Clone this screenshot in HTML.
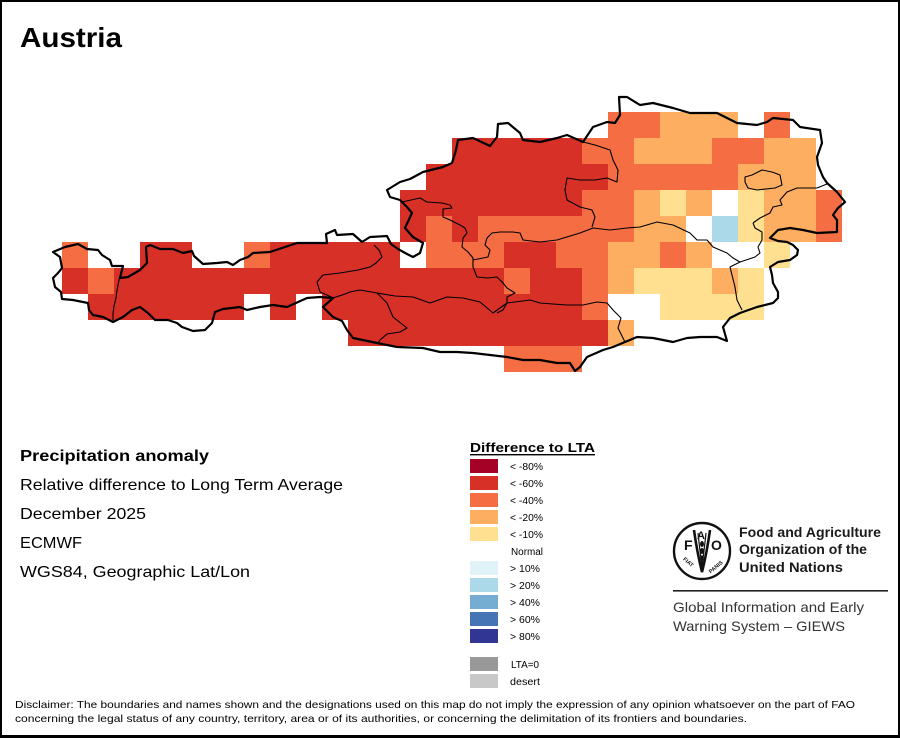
<!DOCTYPE html>
<html><head><meta charset="utf-8"><style>
html,body{margin:0;padding:0;background:#fff;}
svg{display:block;}
text{font-family:"Liberation Sans",Arial,sans-serif;}
</style></head><body>
<svg xmlns="http://www.w3.org/2000/svg" width="900" height="738" viewBox="0 0 900 738">
<rect x="0" y="0" width="900" height="738" fill="#fff"/>
<g shape-rendering="crispEdges">
<rect x="608" y="112" width="52" height="26" fill="#f46d43"/>
<rect x="660" y="112" width="78" height="26" fill="#fdae61"/>
<rect x="764" y="112" width="26" height="26" fill="#f46d43"/>
<rect x="452" y="138" width="130" height="26" fill="#d73027"/>
<rect x="582" y="138" width="52" height="26" fill="#f46d43"/>
<rect x="634" y="138" width="78" height="26" fill="#fdae61"/>
<rect x="712" y="138" width="52" height="26" fill="#f46d43"/>
<rect x="764" y="138" width="52" height="26" fill="#fdae61"/>
<rect x="426" y="164" width="182" height="26" fill="#d73027"/>
<rect x="608" y="164" width="130" height="26" fill="#f46d43"/>
<rect x="738" y="164" width="78" height="26" fill="#fdae61"/>
<rect x="400" y="190" width="182" height="26" fill="#d73027"/>
<rect x="582" y="190" width="52" height="26" fill="#f46d43"/>
<rect x="634" y="190" width="26" height="26" fill="#fdae61"/>
<rect x="660" y="190" width="26" height="26" fill="#fee090"/>
<rect x="686" y="190" width="26" height="26" fill="#fdae61"/>
<rect x="738" y="190" width="26" height="26" fill="#fee090"/>
<rect x="764" y="190" width="52" height="26" fill="#fdae61"/>
<rect x="816" y="190" width="26" height="26" fill="#f46d43"/>
<rect x="400" y="216" width="26" height="26" fill="#d73027"/>
<rect x="426" y="216" width="26" height="26" fill="#f46d43"/>
<rect x="452" y="216" width="26" height="26" fill="#d73027"/>
<rect x="478" y="216" width="156" height="26" fill="#f46d43"/>
<rect x="634" y="216" width="52" height="26" fill="#fdae61"/>
<rect x="712" y="216" width="26" height="26" fill="#abd9e9"/>
<rect x="738" y="216" width="26" height="26" fill="#fee090"/>
<rect x="764" y="216" width="52" height="26" fill="#fdae61"/>
<rect x="816" y="216" width="26" height="26" fill="#f46d43"/>
<rect x="62" y="242" width="26" height="26" fill="#f46d43"/>
<rect x="140" y="242" width="52" height="26" fill="#d73027"/>
<rect x="244" y="242" width="26" height="26" fill="#f46d43"/>
<rect x="270" y="242" width="130" height="26" fill="#d73027"/>
<rect x="426" y="242" width="78" height="26" fill="#f46d43"/>
<rect x="504" y="242" width="52" height="26" fill="#d73027"/>
<rect x="556" y="242" width="52" height="26" fill="#f46d43"/>
<rect x="608" y="242" width="52" height="26" fill="#fdae61"/>
<rect x="660" y="242" width="26" height="26" fill="#f46d43"/>
<rect x="686" y="242" width="26" height="26" fill="#fdae61"/>
<rect x="764" y="242" width="26" height="26" fill="#fee090"/>
<rect x="62" y="268" width="26" height="26" fill="#d73027"/>
<rect x="88" y="268" width="26" height="26" fill="#f46d43"/>
<rect x="114" y="268" width="390" height="26" fill="#d73027"/>
<rect x="504" y="268" width="26" height="26" fill="#f46d43"/>
<rect x="530" y="268" width="52" height="26" fill="#d73027"/>
<rect x="582" y="268" width="26" height="26" fill="#f46d43"/>
<rect x="608" y="268" width="26" height="26" fill="#fdae61"/>
<rect x="634" y="268" width="78" height="26" fill="#fee090"/>
<rect x="712" y="268" width="26" height="26" fill="#fdae61"/>
<rect x="738" y="268" width="26" height="26" fill="#fee090"/>
<rect x="88" y="294" width="156" height="26" fill="#d73027"/>
<rect x="270" y="294" width="26" height="26" fill="#d73027"/>
<rect x="322" y="294" width="260" height="26" fill="#d73027"/>
<rect x="582" y="294" width="26" height="26" fill="#f46d43"/>
<rect x="660" y="294" width="104" height="26" fill="#fee090"/>
<rect x="348" y="320" width="260" height="26" fill="#d73027"/>
<rect x="608" y="320" width="26" height="26" fill="#fdae61"/>
<rect x="504" y="346" width="78" height="26" fill="#f46d43"/>
</g>
<g fill="none" stroke="#000" stroke-width="1.1" stroke-linejoin="round">
<path d="M123,266 L121,272 L119,280 L117,290 L116,298 L114,306 L113,314 L113,322"/>
<path d="M374,245 L379,250 L382,257 L376,263 L370,267 L358,270 L340,273 L323,275 L317,282 L320,292 L327,295 L333,298"/>
<path d="M333,298 L345,294 L350,292 L360,290 L377,293 L395,296 L413,297 L430,303 L447,297 L463,298 L480,302 L493,313 L507,303 L530,300 L540,303 L553,304 L567,305 L583,305 L597,302 L607,303 L613,310 L621,318 L618,328 L622,336 L625,342"/>
<path d="M377,293 L387,303 L393,317 L407,328 L400,332 L387,334 L380,340 L378,343"/>
<path d="M402,202 L420,198 L427,202 L442,203 L450,205 L452,208 L443,209 L443,217 L450,220 L460,225 L465,228 L467,233 L463,238 L462,247 L468,252 L473,258 L473,267 L477,277 L487,278 L497,277 L503,283 L507,288 L515,293 L507,297 L507,303 L503,310 L497,313"/>
<path d="M473,260 L488,257 L490,250 L485,245 L487,238 L492,233 L500,232 L513,232 L520,233 L523,240 L540,242 L557,240 L580,233 L593,228 L610,230 L627,228 L640,227 L657,222 L673,225 L690,233 L697,240 L707,240 L713,247 L727,253 L733,258 L740,262 L755,257 L760,253 L758,247 L762,240 L762,232 L755,228 L753,223"/>
<path d="M583,142 L595,145 L610,150 L613,160 L618,170 L617,182 L607,178 L595,180 L580,180 L567,178 L565,190 L567,200 L580,207 L592,210 L595,217 L592,227"/>
<path d="M827,184 L817,188 L797,188 L787,192 L780,200 L782,205 L773,207 L770,213 L760,218 L753,223"/>
<path d="M740,262 L730,267 L732,275 L735,287 L737,300 L742,310"/>
<path d="M745,177 L752,175 L762,170 L772,172 L780,175 L782,185 L775,188 L757,190 L748,188 L745,182 Z"/>
</g>
<path fill="none" stroke="#000" stroke-width="2.2" stroke-linejoin="round" d="M53,252 L65,247 L78,244 L87,249 L98,250 L102,255 L110,260 L112,266 L123,266 L120,278 L128,277 L140,270 L147,263 L146,247 L150,245 L160,249 L173,249 L183,253 L192,251 L194,256 L203,264 L217,263 L227,262 L233,265 L240,260 L248,257 L253,253 L270,252 L297,243 L327,243 L326,234 L335,230 L337,235 L353,234 L362,242 L370,237 L387,236 L391,244 L398,249 L407,254 L413,257 L420,253 L423,243 L413,237 L405,228 L412,213 L407,207 L400,200 L390,197 L387,190 L400,182 L410,179 L423,172 L443,167 L452,163 L456,150 L458,140 L473,138 L490,146 L497,137 L498,124 L508,123 L520,133 L523,140 L540,142 L557,138 L567,135 L583,142 L593,127 L607,122 L615,123 L620,115 L619,97 L627,97 L640,105 L653,103 L673,108 L690,113 L717,113 L737,123 L757,125 L767,122 L773,118 L793,120 L800,127 L820,130 L822,143 L817,157 L818,165 L823,177 L827,183 L837,192 L845,202 L838,208 L833,215 L837,220 L837,232 L817,233 L803,230 L790,228 L778,230 L770,238 L778,241 L787,242 L793,245 L798,250 L797,255 L790,260 L778,262 L770,267 L772,275 L773,283 L778,292 L778,298 L773,303 L757,307 L740,313 L730,318 L723,327 L727,341 L717,337 L700,337 L687,338 L673,342 L653,338 L637,337 L625,342 L613,347 L603,350 L587,357 L580,367 L575,371 L570,363 L557,363 L540,360 L523,360 L507,357 L490,355 L473,353 L457,352 L440,352 L423,348 L397,347 L377,343 L353,338 L347,330 L342,321 L333,317 L323,307 L333,298 L320,297 L307,298 L287,307 L273,305 L260,307 L247,310 L240,307 L223,309 L215,312 L212,323 L205,330 L193,331 L182,327 L177,323 L168,320 L155,320 L148,313 L140,307 L132,310 L123,317 L113,322 L103,317 L93,315 L89,310 L88,303 L73,300 L62,299 L61,292 L55,287 L53,278 L58,273 L62,268 L60,257 Z"/>

<text x="20" y="47" font-size="28" font-weight="bold" textLength="102" lengthAdjust="spacingAndGlyphs">Austria</text>

<text x="20" y="461" font-size="16" font-weight="bold" textLength="189" lengthAdjust="spacingAndGlyphs">Precipitation anomaly</text>
<text x="20" y="490" font-size="16" textLength="323" lengthAdjust="spacingAndGlyphs">Relative difference to Long Term Average</text>
<text x="20" y="519" font-size="16" textLength="126" lengthAdjust="spacingAndGlyphs">December 2025</text>
<text x="20" y="548" font-size="16" textLength="62" lengthAdjust="spacingAndGlyphs">ECMWF</text>
<text x="20" y="577" font-size="16" textLength="230" lengthAdjust="spacingAndGlyphs">WGS84, Geographic Lat/Lon</text>

<text x="470" y="452" font-size="13" font-weight="bold" textLength="125" lengthAdjust="spacingAndGlyphs">Difference to LTA</text>
<rect x="470" y="454" width="125" height="1.4" fill="#000"/>
<g shape-rendering="crispEdges">
<rect x="470" y="459" width="28" height="14" fill="#a50026"/>
<rect x="470" y="476" width="28" height="14" fill="#d73027"/>
<rect x="470" y="493" width="28" height="14" fill="#f46d43"/>
<rect x="470" y="510" width="28" height="14" fill="#fdae61"/>
<rect x="470" y="527" width="28" height="14" fill="#fee090"/>
<rect x="470" y="561" width="28" height="14" fill="#e0f3f8"/>
<rect x="470" y="578" width="28" height="14" fill="#abd9e9"/>
<rect x="470" y="595" width="28" height="14" fill="#74add1"/>
<rect x="470" y="612" width="28" height="14" fill="#4575b4"/>
<rect x="470" y="629" width="28" height="14" fill="#313695"/>
<rect x="470" y="657" width="28" height="14" fill="#999999"/>
<rect x="470" y="674" width="28" height="14" fill="#c8c8c8"/>
</g>
<g font-size="10">
<text x="510" y="470" textLength="33" lengthAdjust="spacingAndGlyphs">&lt; -80%</text>
<text x="510" y="487" textLength="33" lengthAdjust="spacingAndGlyphs">&lt; -60%</text>
<text x="510" y="504" textLength="33" lengthAdjust="spacingAndGlyphs">&lt; -40%</text>
<text x="510" y="521" textLength="33" lengthAdjust="spacingAndGlyphs">&lt; -20%</text>
<text x="510" y="538" textLength="33" lengthAdjust="spacingAndGlyphs">&lt; -10%</text>
<text x="511" y="555" textLength="32" lengthAdjust="spacingAndGlyphs">Normal</text>
<text x="510" y="572" textLength="30" lengthAdjust="spacingAndGlyphs">&gt; 10%</text>
<text x="510" y="589" textLength="30" lengthAdjust="spacingAndGlyphs">&gt; 20%</text>
<text x="510" y="606" textLength="30" lengthAdjust="spacingAndGlyphs">&gt; 40%</text>
<text x="510" y="623" textLength="30" lengthAdjust="spacingAndGlyphs">&gt; 60%</text>
<text x="510" y="640" textLength="30" lengthAdjust="spacingAndGlyphs">&gt; 80%</text>
<text x="511" y="668" textLength="28" lengthAdjust="spacingAndGlyphs">LTA=0</text>
<text x="510" y="685" textLength="30" lengthAdjust="spacingAndGlyphs">desert</text>
</g>

<g>
<circle cx="702" cy="551" r="28" fill="none" stroke="#111" stroke-width="2.4"/>
<path d="M694,530 Q697,552 702,572 Q707,552 710,530" fill="none" stroke="#111" stroke-width="2.6"/>
<path d="M698,533 Q700,552 702,566 Q704,552 706,533" fill="none" stroke="#111" stroke-width="1.2"/>
<ellipse cx="702" cy="544" rx="2" ry="3" fill="#111"/>
<ellipse cx="702" cy="551" rx="2" ry="3" fill="#111"/>
<ellipse cx="702" cy="558" rx="1.8" ry="2.6" fill="#111"/>
<text x="684" y="550" font-size="14" font-weight="bold" fill="#111">F</text>
<text x="697" y="539" font-size="11" font-weight="bold" fill="#111">A</text>
<text x="711" y="550" font-size="14" font-weight="bold" fill="#111">O</text>
<text x="681" y="562" font-size="5.5" font-weight="bold" fill="#111" transform="rotate(40 685 563)">FIAT</text>
<text x="706" y="571" font-size="5.5" font-weight="bold" fill="#111" transform="rotate(-40 712 566)">PANIS</text>
</g>
<g fill="#1a1a1a" font-weight="bold" font-size="14">
<text x="739" y="537" textLength="142" lengthAdjust="spacingAndGlyphs">Food and Agriculture</text>
<text x="739" y="554" textLength="128" lengthAdjust="spacingAndGlyphs">Organization of the</text>
<text x="739" y="572" textLength="104" lengthAdjust="spacingAndGlyphs">United Nations</text>
</g>
<rect x="673" y="590" width="215" height="1.6" fill="#222"/>
<g fill="#333" font-size="14">
<text x="673" y="612" textLength="191" lengthAdjust="spacingAndGlyphs">Global Information and Early</text>
<text x="673" y="631" textLength="172" lengthAdjust="spacingAndGlyphs">Warning System – GIEWS</text>
</g>

<g font-size="10.5" fill="#000">
<text x="15" y="708" textLength="840" lengthAdjust="spacingAndGlyphs">Disclaimer: The boundaries and names shown and the designations used on this map do not imply the expression of any opinion whatsoever on the part of FAO</text>
<text x="15" y="722" textLength="732" lengthAdjust="spacingAndGlyphs">concerning the legal status of any country, territory, area or of its authorities, or concerning the delimitation of its frontiers and boundaries.</text>
</g>

<g fill="#000" shape-rendering="crispEdges">
<rect x="0" y="0" width="900" height="2"/>
<rect x="0" y="0" width="2" height="738"/>
<rect x="898" y="0" width="2" height="738"/>
<rect x="0" y="735" width="900" height="3"/>
</g>
</svg>
</body></html>
